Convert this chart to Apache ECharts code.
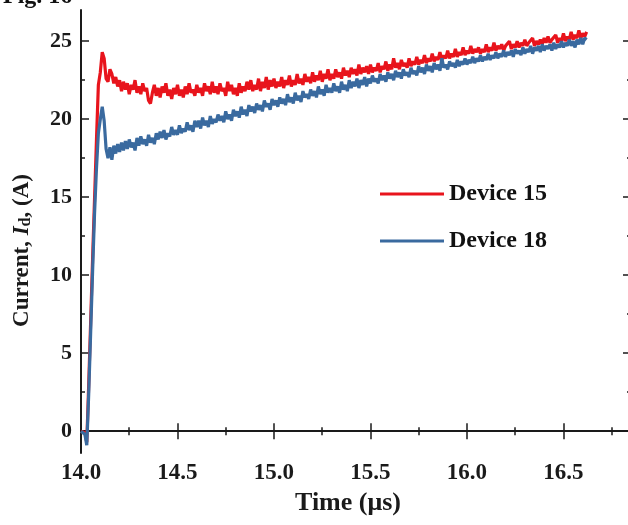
<!DOCTYPE html>
<html>
<head>
<meta charset="utf-8">
<script src="https://cdn.jsdelivr.net/npm/echarts@6/dist/echarts.min.js"></script>
<style>
html,body{margin:0;padding:0;background:#fff;}
#chart{width:628px;height:525px;}
</style>
</head>
<body>
<div id="chart"></div>
<script>
// Sampling grid (time in µs): start and step of the recorded samples
const T0 = 14.0;
const DT = 0.01;

// Device 15 current (A), one value per 0.01 µs from 14.00 µs
const dev15 = [
  0.0, 0.05, -0.1, -0.7, 3.0, 7.0, 11.0, 14.8, 18.6, 22.2,
  23.0, 24.3, 23.9, 22.6, 22.4, 23.2, 22.9, 22.3, 22.7, 22.1,
  22.5, 21.8, 22.4, 21.9, 22.3, 21.6, 22.2, 21.9, 22.5, 21.7,
  22.1, 21.6, 22.3, 21.8, 22.0, 21.2, 21.0, 21.7, 22.2, 21.5,
  22.0, 21.4, 22.1, 21.7, 22.3, 21.5, 21.9, 21.3, 22.0, 21.6,
  22.2, 21.5, 21.9, 21.4, 22.1, 21.6, 22.3, 21.7, 21.9, 21.5,
  22.2, 21.7, 22.0, 21.5, 22.3, 21.8, 22.1, 21.6, 22.4, 21.7,
  22.1, 21.6, 22.3, 21.8, 22.0, 21.5, 22.4, 21.8, 22.2, 21.6,
  22.0, 21.5, 22.3, 21.7, 22.1, 21.8, 22.4, 21.9, 22.5, 21.8,
  22.2, 21.9, 22.6, 21.8, 22.4, 22.0, 22.7, 21.9, 22.5, 22.1,
  22.6, 22.0, 22.4, 22.1, 22.7, 22.0, 22.5, 22.2, 22.8, 22.1,
  22.5, 22.2, 22.9, 22.3, 22.6, 22.2, 22.9, 22.4, 22.7, 22.3,
  23.0, 22.4, 22.8, 22.5, 23.1, 22.4, 22.9, 22.6, 23.2, 22.5,
  22.9, 22.6, 23.2, 22.7, 23.0, 22.6, 23.3, 22.8, 23.1, 22.7,
  23.3, 22.9, 23.2, 22.8, 23.5, 22.9, 23.3, 23.0, 23.4, 22.9,
  23.5, 23.0, 23.3, 23.1, 23.6, 23.0, 23.4, 23.2, 23.7, 23.1,
  23.5, 23.2, 23.9, 23.3, 23.6, 23.2, 23.8, 23.4, 23.6, 23.3,
  23.9, 23.4, 23.7, 23.5, 24.0, 23.5, 23.8, 23.6, 24.1, 23.6,
  23.9, 23.7, 24.2, 23.7, 24.0, 23.8, 24.3, 23.8, 24.1, 23.9,
  24.4, 23.9, 24.2, 24.0, 24.5, 24.0, 24.3, 24.1, 24.6, 24.1,
  24.4, 24.2, 24.7, 24.2, 24.5, 24.3, 24.6, 24.2, 24.5, 24.3,
  24.8, 24.3, 24.6, 24.4, 24.9, 24.4, 24.7, 24.5, 24.8, 24.4,
  24.7, 24.6, 25.0, 24.5, 24.8, 24.6, 25.0, 24.6, 24.9, 24.7,
  25.1, 24.7, 24.9, 24.8, 25.2, 24.7, 25.0, 24.8, 25.1, 24.8,
  25.2, 24.9, 25.3, 24.9, 25.1, 25.0, 25.4, 24.9, 25.2, 25.0,
  25.5, 25.0, 25.3, 25.1, 25.6, 25.1, 25.4, 25.2, 25.7, 25.2,
  25.5, 25.3, 25.6
];

// Device 18 current (A), one value per 0.01 µs from 14.00 µs
const dev18 = [
  0.0, 0.05, -0.2, -0.9, 2.4, 6.3, 10.2, 13.9, 16.8, 19.1,
  20.0, 20.8, 19.9, 18.1, 17.5, 18.2, 17.4, 18.3, 17.8, 18.4,
  17.9, 18.5, 18.0, 18.6, 18.1, 18.7, 18.2, 18.5, 18.0, 18.8,
  18.3, 18.9, 18.4, 18.7, 18.3, 19.0, 18.5, 18.8, 18.4, 19.1,
  18.7, 19.2, 18.8, 19.3, 18.7, 19.1, 18.9, 19.5, 19.0, 19.3,
  19.0, 19.6, 19.1, 19.4, 19.2, 19.8, 19.3, 19.6, 19.2, 19.9,
  19.5, 19.9, 19.4, 20.1, 19.6, 19.9, 19.5, 20.2, 19.7, 20.0,
  19.8, 20.3, 19.9, 20.2, 19.8, 20.5, 20.0, 20.3, 19.9, 20.6,
  20.2, 20.5, 20.1, 20.8, 20.3, 20.6, 20.2, 20.9, 20.5, 20.8,
  20.4, 21.0, 20.6, 20.9, 20.5, 21.2, 20.8, 21.0, 20.6, 21.3,
  20.9, 21.2, 20.8, 21.4, 21.0, 21.3, 20.9, 21.6, 21.1, 21.4,
  21.0, 21.7, 21.2, 21.5, 21.1, 21.8, 21.4, 21.6, 21.3, 21.9,
  21.5, 21.8, 21.4, 22.1, 21.6, 21.9, 21.5, 22.2, 21.7, 22.0,
  21.7, 22.3, 21.8, 22.1, 21.7, 22.4, 21.9, 22.2, 21.8, 22.5,
  22.0, 22.4, 22.1, 22.6, 22.0, 22.5, 22.2, 22.7, 22.1, 22.6,
  22.3, 22.8, 22.4, 22.6, 22.3, 22.9, 22.5, 22.8, 22.4, 23.0,
  22.6, 22.9, 22.5, 23.1, 22.7, 23.0, 22.6, 23.2, 22.8, 23.0,
  22.7, 23.3, 22.9, 23.1, 22.8, 23.4, 23.0, 23.3, 22.9, 23.5,
  23.1, 23.4, 23.0, 23.6, 23.2, 23.5, 23.1, 23.9, 23.3, 23.5,
  23.2, 23.7, 23.4, 23.6, 23.3, 23.8, 23.4, 23.7, 23.5, 23.9,
  23.5, 23.8, 23.6, 24.0, 23.6, 23.9, 23.7, 24.1, 23.7, 24.0,
  23.8, 24.2, 23.8, 24.1, 23.9, 24.3, 23.9, 24.2, 24.0, 24.4,
  24.0, 24.3, 24.1, 24.4, 24.0, 24.5, 24.2, 24.4, 24.1, 24.6,
  24.2, 24.5, 24.3, 24.7, 24.2, 24.6, 24.4, 24.7, 24.3, 24.8,
  24.4, 24.7, 24.5, 24.8, 24.4, 24.9, 24.5, 24.8, 24.6, 25.0,
  24.6, 24.9, 24.7, 25.1, 24.7, 25.0, 24.6, 25.1, 24.8, 25.2,
  24.8, 25.2, 25.1
];

const seriesNames = ['Device 15', 'Device 18'];
const xMajorTicks = [14.0, 14.5, 15.0, 15.5, 16.0, 16.5];
const xMinorTicks = [14.25, 14.75, 15.25, 15.75, 16.25, 16.75];
const yMajorTicks = [0, 5, 10, 15, 20, 25];
const yMinorTicks = [2.5, 7.5, 12.5, 17.5, 22.5];

const X_MIN = 14.0, X_MAX = 16.85;
const Y_MIN = -1.4, Y_MAX = 27;

const FONT = '"Liberation Serif", "DejaVu Serif", serif';
const INK = '#1a1a1a';

function pairs(arr) {
  return arr.map((v, i) => [Math.round((T0 + i * DT) * 100) / 100, v]);
}

const chart = echarts.init(document.getElementById('chart'), null, {renderer: 'canvas'});

const baseLine = {show: true, lineStyle: {color: INK, width: 2}};
const noLine = {show: false};

function xAxisDef(pos, ticks, len, opts) {
  return Object.assign({
    type: 'value', position: pos, min: X_MIN, max: X_MAX,
    splitLine: {show: false},
    axisLine: noLine,
    axisTick: {show: true, inside: true, length: len, customValues: ticks,
               lineStyle: {color: INK, width: 1.5}},
    axisLabel: {show: false}
  }, opts || {});
}
function yAxisDef(pos, ticks, len, opts) {
  return Object.assign({
    type: 'value', position: pos, min: Y_MIN, max: Y_MAX,
    splitLine: {show: false},
    axisLine: noLine,
    axisTick: {show: true, inside: true, length: len, customValues: ticks,
               lineStyle: {color: INK, width: 1.5}},
    axisLabel: {show: false}
  }, opts || {});
}

const option = {
  animation: false,
  backgroundColor: '#ffffff',
  title: {
    text: 'Fig. 16',
    left: -2, top: -20,
    textStyle: {fontFamily: FONT, fontWeight: 'bold', fontSize: 24, color: '#111'}
  },
  grid: {left: 81, right: -3, top: 10, bottom: 72, containLabel: false, outerBoundsMode: 'none'},
  legend: {
    data: seriesNames,
    orient: 'vertical',
    left: 375, top: 177,
    itemWidth: 64, itemHeight: 14, itemGap: 23,
    icon: 'path://M0,6 L64,6 L64,9 L0,9 Z',
    textStyle: {fontFamily: FONT, fontWeight: 'bold', fontSize: 24, color: '#111'}
  },
  xAxis: [
    xAxisDef('bottom', xMajorTicks, 8, {
      axisLine: baseLine,
      axisLabel: {show: true, customValues: xMajorTicks, margin: 9,
        formatter: v => v.toFixed(1),
        fontFamily: FONT, fontWeight: 'bold', fontSize: 23, color: INK},
      name: 'Time (μs)', nameLocation: 'middle', nameGap: 37,
      nameTextStyle: {fontFamily: FONT, fontWeight: 'bold', fontSize: 26, color: INK,
        padding: [0, 16, 0, 0]}
    }),
    xAxisDef('bottom', xMinorTicks, 4),
    xAxisDef('top', xMajorTicks, 8, {axisLine: baseLine}),
    xAxisDef('top', xMinorTicks, 4)
  ],
  yAxis: [
    yAxisDef('left', yMajorTicks, 8, {
      axisLine: baseLine,
      axisLabel: {show: true, customValues: yMajorTicks, margin: 9,
        fontFamily: FONT, fontWeight: 'bold', fontSize: 22, color: INK},
      name: 'Current, {i|I}{sub|d}, (A)', nameLocation: 'middle', nameGap: 47,
      nameTextStyle: {
        fontFamily: FONT, fontWeight: 'bold', fontSize: 23, color: INK,
        padding: [0, 38, 0, 0],
        rich: {
          i: {fontFamily: FONT, fontWeight: 'bold', fontStyle: 'italic', fontSize: 23, color: INK},
          sub: {fontFamily: FONT, fontWeight: 'bold', fontSize: 16, color: INK, verticalAlign: 'bottom', padding: [6, 0, 0, 0]}
        }
      }
    }),
    yAxisDef('left', yMinorTicks, 4),
    yAxisDef('right', yMajorTicks, 8, {axisLine: baseLine}),
    yAxisDef('right', yMinorTicks, 4)
  ],
  series: [
    {
      name: seriesNames[0], type: 'line', xAxisIndex: 0, yAxisIndex: 0,
      data: pairs(dev15), symbol: 'none', smooth: false,
      lineStyle: {color: '#e8141c', width: 3.2}, itemStyle: {color: '#e8141c'}
    },
    {
      name: seriesNames[1], type: 'line', xAxisIndex: 0, yAxisIndex: 0,
      data: pairs(dev18), symbol: 'none', smooth: false,
      lineStyle: {color: '#3a6a9f', width: 3.2}, itemStyle: {color: '#3a6a9f'}
    }
  ]
};
chart.setOption(option);
</script>
</body>
</html>
